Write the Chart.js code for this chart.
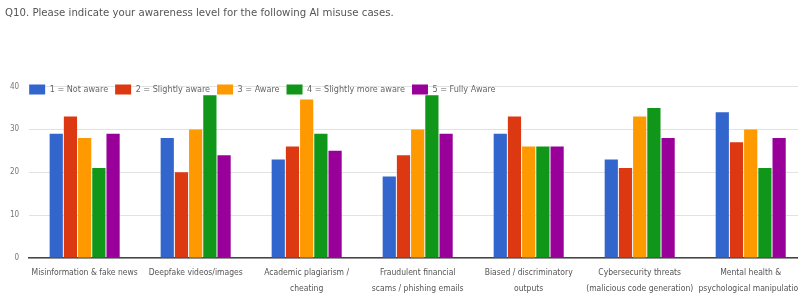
<!DOCTYPE html>
<html>
<head>
<meta charset="utf-8">
<script src="https://cdn.jsdelivr.net/npm/chart.js@4"></script>
<style>
  html, body { margin: 0; padding: 0; background: #fff; overflow: hidden; }
  #wrap { width: 810px; height: 295px; }
</style>
</head>
<body>
<div id="wrap"><canvas id="myChart"></canvas></div>
<script>
// categories (x axis)
const categories = [
    "Misinformation & fake news",
    "Deepfake videos/images",
    ["Academic plagiarism /", "cheating"],
    ["Fraudulent financial", "scams / phishing emails"],
    ["Biased / discriminatory", "outputs"],
    ["Cybersecurity threats", "(malicious code generation)"],
    ["Mental health &", "psychological manipulation"]
];

// series values
const notAware      = [29, 28, 23, 19, 29, 23, 34];
const slightlyAware = [33, 20, 26, 24, 33, 21, 27];
const aware         = [28, 30, 37, 30, 26, 33, 30];
const moreAware     = [21, 38, 29, 38, 26, 35, 21];
const fullyAware    = [29, 24, 25, 29, 26, 28, 28];

const seriesNames = ["1 = Not aware", "2 = Slightly aware", "3 = Aware", "4 = Slightly more aware", "5 = Fully Aware"];
const yTicks = [0, 10, 20, 30, 40];

const colors = ["#3366cc", "#dc3912", "#ff9900", "#109618", "#990099"];
const fontFamily = "'Liberation Sans Narrow', 'DejaVu Sans Condensed', sans-serif";

const values = [notAware, slightlyAware, aware, moreAware, fullyAware];

// legend drawn over the top of the plot, like the google forms chart
const overlayLegend = {
    id: "overlayLegend",
    beforeInit(chart) {
        const fit = chart.legend.fit;
        chart.legend.fit = function () { fit.call(this); this.height = 0; };
    },
    afterLayout(chart) {
        const lg = chart.legend;
        lg.top = chart.chartArea.top - 9;
        lg.bottom = lg.top + 30;
        lg.height = 30;
        lg.left = chart.chartArea.left - 7;
        chart.titleBlock.left += 5;
    }
};

const ctx = document.getElementById('myChart').getContext('2d');

const chart = new Chart(ctx, {
    type: "bar",
    data: {
        labels: categories,
        datasets: values.map((v, i) => ({
            label: seriesNames[i],
            data: v,
            backgroundColor: colors[i],
            borderWidth: 0,
            barPercentage: 0.93,
            categoryPercentage: 0.64
        }))
    },
    options: {
        responsive: true,
        maintainAspectRatio: false,
        animation: false,
        layout: { padding: { left: 0, right: 0, top: 4, bottom: 0 } },
        plugins: {
            title: {
                display: true,
                text: "Q10. Please indicate your awareness level for the following AI misuse cases.",
                align: "start",
                color: "#555",
                font: { family: fontFamily, size: 11.3, weight: "normal" },
                padding: { top: 2, bottom: 67 }
            },
            legend: {
                position: "top",
                align: "start",
                labels: {
                    boxWidth: 16,
                    boxHeight: 10,
                    color: "#666",
                    padding: 7,
                    font: { family: fontFamily, size: 9 }
                }
            },
            tooltip: { enabled: false }
        },
        scales: {
            x: {
                afterFit: (scale) => { scale.height = 37; },
                grid: { display: false, drawTicks: false, tickLength: 0 },
                border: { display: true, color: "#444", width: 1.5 },
                ticks: {
                    color: "#555",
                    maxRotation: 0,
                    autoSkip: false,
                    padding: 7,
                    font: { family: fontFamily, size: 8.5, lineHeight: 1.85 }
                }
            },
            y: {
                min: 0,
                max: 40,
                afterBuildTicks: (axis) => { axis.ticks = yTicks.map(v => ({ value: v })); },
                grid: { color: "#e2e2e2", drawTicks: false },
                border: { display: false },
                ticks: {
                    color: "#777",
                    padding: 10,
                    font: { family: fontFamily, size: 8 }
                }
            }
        }
    },
    plugins: [overlayLegend]
});
</script>
</body>
</html>
